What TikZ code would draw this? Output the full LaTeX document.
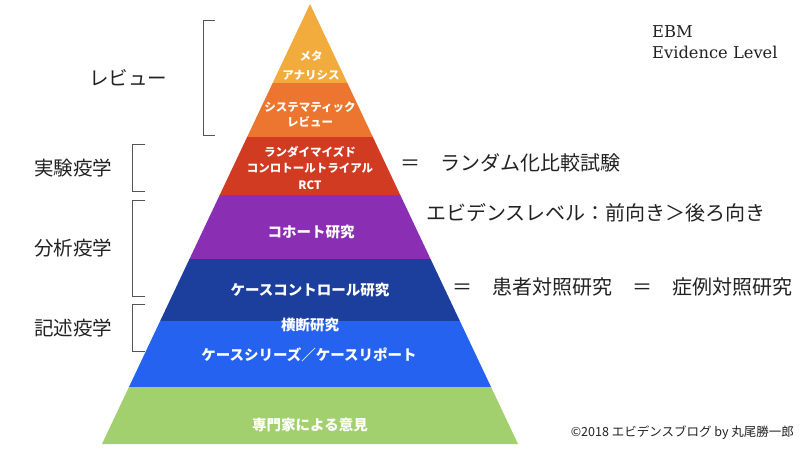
\documentclass[tikz,border=0pt]{standalone}
\usepackage{fontspec}
\setmainfont{Noto Sans CJK JP}
\newfontfamily\ebmfont{DejaVu Serif}
\definecolor{cMeta}{HTML}{F2AB3D}
\definecolor{cSys}{HTML}{EC7630}
\definecolor{cRct}{HTML}{D13B22}
\definecolor{cCoh}{HTML}{8A2FB3}
\definecolor{cCC}{HTML}{1C3F9D}
\definecolor{cBlue}{HTML}{2662F0}
\definecolor{cGreen}{HTML}{A3D06E}
\definecolor{cInk}{HTML}{222222}
\definecolor{cBr}{HTML}{555555}
\tikzset{
  bandlabel/.style={text=white, inner sep=0pt, font=\bfseries\fontsize{14.5}{17}\selectfont},
  smalllabel/.style={text=white, inner sep=0pt, font=\bfseries\fontsize{11.5}{14}\selectfont},
  sidelabel/.style={text=cInk, inner sep=0pt, font=\fontsize{19.5}{22}\selectfont},
  notelabel/.style={text=cInk, inner sep=0pt, anchor=west, font=\fontsize{20}{23}\selectfont},
  titlelabel/.style={anchor=base west, inner sep=0pt, text=cInk, font=\ebmfont\fontsize{16.3}{19}\selectfont},
  bracketline/.style={draw=cBr, line width=1pt},
}
\begin{document}
\begin{tikzpicture}[x=1pt,y=-1pt]
\useasboundingbox (0,0) rectangle (800,450);
\fill[white] (0,0) rectangle (800,450);
\coordinate (apex) at (310,4);
\coordinate (bl) at (102,444);
\coordinate (br) at (518,444);
\begin{scope}
  \clip (apex) -- (br) -- (bl) -- cycle;
  \fill[cMeta] (0,0) rectangle (800,83);
  \fill[cSys] (0,83) rectangle (800,137);
  \fill[cRct] (0,137) rectangle (800,195);
  \fill[cCoh] (0,195) rectangle (800,259);
  \fill[cCC] (0,259) rectangle (800,321);
  \fill[cBlue] (0,321) rectangle (800,387);
  \fill[cGreen] (0,387) rectangle (800,450);
\end{scope}
% band labels
\node[smalllabel] (meta1) at (311,56) {メタ};
\node[smalllabel] (meta2) at (311,75) {アナリシス};
\node[smalllabel] (sys1) at (310,107) {システマティック};
\node[smalllabel] (sys2) at (310,122) {レビュー};
\node[smalllabel] (rct1) at (310,152) {ランダイマイズド};
\node[smalllabel] (rct2) at (310,168) {コンロトールトライアル};
\node[smalllabel] (rct3) at (310,185) {RCT};
\node[bandlabel] (coh) at (311,232) {コホート研究};
\node[bandlabel] (cc) at (310,290) {ケースコントロール研究};
\node[bandlabel] (cross) at (310,325) {横断研究};
\node[bandlabel] (series) at (309,355) {ケースシリーズ／ケースリポート};
\node[bandlabel] (expert) at (310,425) {専門家による意見};
% brackets
\draw[bracketline] (215,20) -- (203,20) -- (203,135) -- (215,135);
\draw[bracketline] (145,144) -- (132,144) -- (132,191) -- (145,191);
\draw[bracketline] (145,200) -- (132,200) -- (132,296) -- (145,296);
\draw[bracketline] (145,304) -- (132,304) -- (132,351) -- (145,351);
% side labels
\node[sidelabel] (review) at (128,78) {レビュー};
\node[sidelabel] (exper) at (73,168) {実験疫学};
\node[sidelabel] (analy) at (73,248) {分析疫学};
\node[sidelabel] (descr) at (73,328) {記述疫学};
% notes
\node[notelabel] (rctnote) at (400,163) {＝　ランダム化比較試験};
\node[notelabel] (levnote) at (426,213) {エビデンスレベル：前向き＞後ろ向き};
\node[notelabel] (ccnote) at (452,287) {＝　患者対照研究　＝　症例対照研究};
% title
\node[titlelabel] (ebm) at (652,37) {EBM};
\node[titlelabel] (evl) at (652,58) {Evidence Level};
% credit
\node[anchor=east, inner sep=0pt, text=cInk, font=\fontsize{12.5}{15}\selectfont] (credit) at (794,433) {©2018 エビデンスブログ by 丸尾勝一郎};
\end{tikzpicture}
\end{document}
